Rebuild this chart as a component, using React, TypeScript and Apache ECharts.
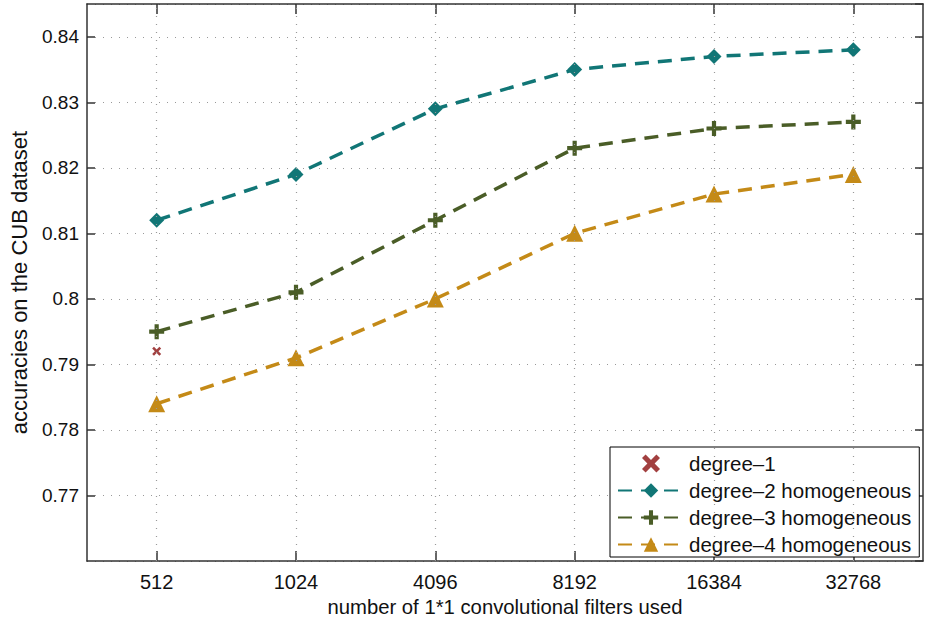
import React, { useEffect, useRef } from "react";
import * as echarts from "echarts";

const categories = ["512", "1024", "4096", "8192", "16384", "32768"];
const degree1 = [0.792];
const degree2 = [0.812, 0.819, 0.829, 0.835, 0.837, 0.838];
const degree3 = [0.795, 0.801, 0.812, 0.823, 0.826, 0.827];
const degree4 = [0.784, 0.791, 0.8, 0.81, 0.816, 0.819];

const FONT = "Liberation Sans, Arial, Helvetica, sans-serif";
const PLUS = "path://M3.6,0H6.4V3.6H10V6.4H6.4V10H3.6V6.4H0V3.6H3.6Z";
const CROSS = "path://M0,2L2,0L5,3L8,0L10,2L7,5L10,8L8,10L5,7L2,10L0,8L3,5Z";

export default function App() {
  const ref = useRef<HTMLDivElement>(null);
  useEffect(() => {
    document.body.style.margin = "0";
    const chart = echarts.init(ref.current!, null, { renderer: "svg" });
    const lineStyleBase = { width: 3.5, type: [14, 9] as any };
    const yLabel = (v: number) => {
      const r = Math.round(v * 100);
      if (Math.abs(v * 100 - r) > 1e-6 || r < 77) return "";
      return (r / 100).toString();
    };
    chart.setOption({
      animation: false,
      backgroundColor: "#ffffff",
      textStyle: { fontFamily: FONT },
      grid: { left: 83, right: 2, top: 4, bottom: 56, containLabel: false },
      legend: {
        orient: "vertical",
        left: 610,
        top: 447,
        width: 312,
        padding: [6, 8, 2, 7],
        itemWidth: 66,
        itemHeight: 18,
        itemGap: 6,
        backgroundColor: "#ffffff",
        borderColor: "#000000",
        borderWidth: 1,
        textStyle: { fontFamily: FONT, fontSize: 20.5, color: "#111" },
        data: [
          { name: "degree–1", itemStyle: { color: "#8b1010" } },
          "degree–2 homogeneous",
          "degree–3 homogeneous",
          "degree–4 homogeneous",
        ],
      },
      xAxis: [
        {
          type: "category",
          data: categories,
          position: "bottom",
          boundaryGap: true,
          name: "number of 1*1 convolutional filters used",
          nameLocation: "middle",
          nameGap: 36,
          nameTextStyle: { fontFamily: FONT, fontSize: 20.3, color: "#111" },
          axisLine: { show: true, lineStyle: { color: "#333", width: 1.5 } },
          axisTick: { show: true, inside: true, alignWithLabel: true, length: 10, lineStyle: { color: "#333", width: 1.5 } },
          axisLabel: { fontFamily: FONT, fontSize: 20, color: "#111", margin: 11 },
          splitLine: { show: false },
        },
        {
          type: "category",
          data: categories,
          position: "top",
          boundaryGap: true,
          axisLine: { show: true, lineStyle: { color: "#333", width: 1.5 } },
          axisTick: { show: true, inside: true, alignWithLabel: true, length: 10, lineStyle: { color: "#333", width: 1.5 } },
          axisLabel: { show: false },
          splitLine: { show: false },
        },
      ],
      yAxis: [
        {
          type: "value",
          min: 0.76,
          max: 0.845,
          interval: 0.01,
          position: "left",
          name: "accuracies on the CUB dataset",
          nameLocation: "middle",
          nameGap: 57,
          nameTextStyle: { fontFamily: FONT, fontSize: 22, color: "#111" },
          axisLine: { show: true, lineStyle: { color: "#333", width: 1.5 } },
          axisTick: { show: true, inside: true, length: 8, lineStyle: { color: "#333", width: 1.5 } },
          axisLabel: { fontFamily: FONT, fontSize: 19, color: "#111", margin: 8, formatter: yLabel, showMaxLabel: false, showMinLabel: false },
          splitLine: { show: true, lineStyle: { type: [1, 7], color: "#999", width: 1.2 } },
        },
        {
          type: "value",
          min: 0.76,
          max: 0.845,
          interval: 0.01,
          position: "right",
          axisLine: { show: true, lineStyle: { color: "#333", width: 1.5 } },
          axisTick: { show: true, inside: true, length: 8, lineStyle: { color: "#333", width: 1.5 } },
          axisLabel: { show: false },
          splitLine: { show: false },
        },
      ],
      series: [
        {
          name: "degree–1",
          type: "scatter",
          z: 1,
          data: degree1,
          symbol: CROSS,
          symbolSize: 9,
          itemStyle: { color: "#8b1010" },
          markLine: {
            silent: true,
            symbol: ["none", "none"],
            label: { show: false },
            lineStyle: { type: [1, 7], color: "#999", width: 1.2 },
            emphasis: { disabled: true },
            data: categories.map((c) => ({ xAxis: c })),
          },
        },
        {
          name: "degree–2 homogeneous",
          type: "line",
          z: 3,
          data: degree2,
          symbol: "diamond",
          symbolSize: 15,
          itemStyle: { color: "#117676" },
          lineStyle: { ...lineStyleBase, color: "#117676" },
        },
        {
          name: "degree–3 homogeneous",
          type: "line",
          z: 3,
          data: degree3,
          symbol: PLUS,
          symbolSize: 15,
          itemStyle: { color: "#4a5d27" },
          lineStyle: { ...lineStyleBase, color: "#4a5d27" },
        },
        {
          name: "degree–4 homogeneous",
          type: "line",
          z: 3,
          data: degree4,
          symbol: "triangle",
          symbolSize: 17,
          itemStyle: { color: "#c48a17" },
          lineStyle: { ...lineStyleBase, color: "#c48a17" },
        },
      ],
    });
    return () => chart.dispose();
  }, []);
  return <div ref={ref} style={{ width: 925, height: 622 }} />;
}
